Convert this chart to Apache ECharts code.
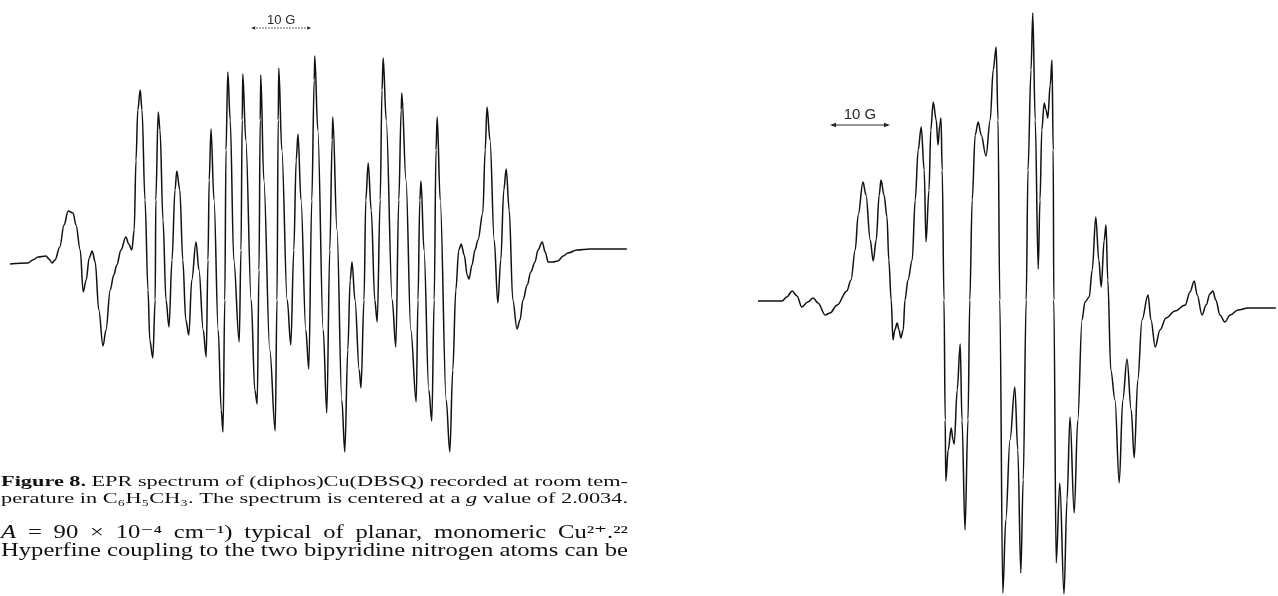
<!DOCTYPE html>
<html><head><meta charset="utf-8">
<script src="https://cdn.jsdelivr.net/npm/echarts@6/dist/echarts.min.js"></script>
<style>html,body{margin:0;padding:0;background:#fff}#c{width:1278px;height:596px}</style>
</head><body><div id="c"></div><script>
// Figure 8 spectrum: [field offset (G), first-derivative intensity (a.u.)]
const leftSpectrum = [[0,0],[3.0,1],[3.8,4],[4.7,7],[6.0,8],[6.5,5],[7.0,1],[7.5,4],[8.3,17],[9.0,39],[9.7,53],[10.5,51],[11.0,39],[11.7,14],[12.2,-28],[12.7,-16],[13.2,6],[13.7,13],[14.2,2],[14.8,-46],[15.5,-82],[16.0,-66],[16.7,-26],[17.3,-11],[17.8,-1],[18.5,14],[19.3,27],[19.8,20],[20.3,14],[20.7,34],[21.0,104],[21.3,154],[21.7,174],[22.0,154],[22.5,64],[23.0,-26],[23.3,-76],[23.8,-94],[24.2,-36],[24.3,64],[24.7,152],[25.0,134],[25.5,44],[26.0,-36],[26.5,-63],[27.0,4],[27.5,74],[27.8,93],[28.3,74],[28.8,4],[29.3,-56],[29.8,-71],[30.3,-16],[31.0,22],[31.5,-6],[32.2,-66],[32.7,-93],[33.0,4],[33.2,84],[33.5,135],[34.0,64],[34.7,-66],[35.2,-146],[35.5,-168],[35.8,-36],[36.0,114],[36.3,192],[36.7,144],[37.3,4],[38.2,-78],[38.5,14],[38.7,144],[38.8,190],[39.3,124],[40.2,-36],[40.8,-126],[41.2,-140],[41.5,-6],[41.7,144],[41.8,189],[42.3,84],[43.3,-86],[44.2,-167],[44.5,-36],[44.7,144],[44.8,196],[45.3,114],[46.2,-36],[46.8,-81],[47.3,14],[47.7,104],[48.0,130],[48.5,64],[49.3,-66],[49.8,-105],[50.3,64],[50.7,184],[50.8,208],[51.3,134],[52.2,-66],[52.8,-149],[53.3,14],[53.7,124],[53.8,147],[54.5,34],[55.3,-136],[55.8,-188],[56.3,-86],[56.7,-16],[57.0,2],[57.5,-36],[58.2,-106],[58.5,-124],[59.0,-36],[59.3,64],[59.7,101],[60.2,54],[60.8,-36],[61.2,-58],[61.7,64],[62.0,174],[62.2,206],[62.7,144],[63.7,-36],[64.3,-83],[64.8,64],[65.2,154],[65.3,171],[66.0,84],[66.8,-66],[67.7,-138],[68.0,-36],[68.3,64],[68.5,83],[69.0,14],[69.8,-126],[70.3,-157],[70.7,-36],[71.0,114],[71.2,147],[71.7,64],[72.7,-136],[73.3,-188],[73.8,-106],[74.3,-26],[74.8,14],[75.2,20],[75.7,9],[76.2,-11],[76.5,-15],[77.0,-1],[77.5,14],[78.0,24],[78.8,51],[79.2,114],[79.5,157],[80.0,124],[80.7,24],[81.3,-39],[81.8,4],[82.3,74],[82.7,95],[83.2,54],[83.8,-36],[84.5,-65],[85.0,-56],[85.5,-36],[86.2,-21],[86.8,-8],[87.5,2],[88.0,14],[88.7,22],[89.2,12],[89.7,2],[90.5,2],[91.3,3],[92.2,8],[93.0,11],[94.5,14],[96.7,15],[102.8,15]];

// Right-hand spectrum: [field offset (G), intensity (a.u.)]
const rightSpectrum = [[0,0],[4.0,0],[4.8,4],[5.7,10],[6.5,5],[7.3,-6],[8.3,-1],[9.2,3],[10.0,-2],[11.2,-14],[12.0,-12],[13.2,-4],[14.8,10],[15.5,21],[16.2,51],[16.7,86],[17.5,119],[18.0,106],[18.7,61],[19.2,40],[19.7,61],[20.2,106],[20.5,121],[21.0,106],[21.5,84],[21.8,41],[22.2,1],[22.5,-39],[22.8,-29],[23.2,-22],[23.5,-29],[23.8,-37],[24.2,-29],[24.5,1],[25.0,21],[25.7,41],[26.2,101],[26.7,151],[27.2,174],[27.7,131],[28.0,59],[28.5,111],[28.8,171],[29.2,199],[29.7,181],[30.0,156],[30.3,176],[30.5,183],[30.7,131],[31.0,1],[31.2,-119],[31.3,-180],[31.7,-149],[32.2,-127],[32.5,-139],[32.7,-143],[33.2,-89],[33.7,-43],[34.0,-119],[34.5,-229],[35.0,-119],[35.3,1],[35.7,101],[36.2,166],[36.7,179],[37.2,166],[38.0,145],[38.7,181],[39.2,231],[39.7,254],[40.0,181],[40.3,1],[40.8,-292],[41.3,-219],[42.0,-139],[42.8,-86],[43.3,-149],[43.8,-272],[44.2,-179],[44.7,1],[45.0,131],[45.5,231],[45.8,288],[46.2,181],[46.7,32],[47.0,101],[47.3,171],[47.7,198],[48.0,191],[48.3,183],[48.7,216],[49.0,241],[49.2,151],[49.3,1],[49.7,-262],[50.3,-182],[51.0,-293],[51.5,-199],[52.0,-116],[52.7,-212],[53.3,-119],[54.0,-19],[54.5,-1],[55.2,4],[55.7,31],[56.3,84],[56.8,41],[57.2,14],[57.7,61],[58.0,76],[58.3,21],[58.8,-69],[59.5,-99],[60.2,-182],[60.8,-99],[61.5,-58],[62.2,-109],[62.7,-157],[63.3,-79],[64.0,-19],[65.0,6],[65.5,-19],[66.2,-46],[67.0,-29],[68.0,-17],[69.5,-10],[71.2,-4],[72.0,9],[72.7,20],[73.2,6],[74.0,-14],[74.7,-4],[75.3,7],[75.8,10],[76.3,1],[77.0,-14],[77.8,-21],[78.7,-14],[80.0,-9],[81.7,-7],[86.3,-7]];

const scaleBarLabel = '10 G';
const scaleBarSpan = 10; // gauss
const captionLines = [
  '*Figure *8. EPR spectrum of (diphos)Cu(DBSQ) recorded at room tem-',
  'perature in C₆H₅CH₃. The spectrum is centered at a _g value of 2.0034.'
];
const bodyLines = [
  '_A = 90 × 10⁻⁴ cm⁻¹) typical of planar, monomeric Cu²⁺.²²',
  'Hyperfine coupling to the two bipyridine nitrogen atoms can be'
];

const chart = echarts.init(document.getElementById('c'));
const lineStyle = {color:'#111', width:1.5};
chart.setOption({
  animation:false,
  grid:[{left:10, top:40, width:616.8, height:430},{left:758, top:5, width:517.8, height:590}],
  xAxis:[{type:'value', gridIndex:0, min:0, max:102.8, show:false},
         {type:'value', gridIndex:1, min:0, max:86.3, show:false}],
  yAxis:[{type:'value', gridIndex:0, min:-206, max:224, show:false},
         {type:'value', gridIndex:1, min:-294, max:296, show:false}],
  series:[
    {type:'line', xAxisIndex:0, yAxisIndex:0, data:leftSpectrum, showSymbol:false, smooth:0.35, smoothMonotone:'x', lineStyle, clip:false},
    {type:'line', xAxisIndex:1, yAxisIndex:1, data:rightSpectrum, showSymbol:false, smooth:0.35, smoothMonotone:'x', lineStyle, clip:false}
  ]
});

// ---- text layout (justified, horizontally scaled serif like the scan) ----
const ctx = document.createElement('canvas').getContext('2d');
const FAM = '"Liberation Serif", "DejaVu Serif", serif';
function fontStr(s, size){ return (s==='i'?'italic ':'') + (s==='b'?'bold ':'') + size + 'px ' + FAM; }
function parse(line){
  return line.split(' ').filter(Boolean).map(w=>{
    let s='n';
    if(w[0]==='*'){s='b'; w=w.slice(1);} else if(w[0]==='_'){s='i'; w=w.slice(1);}
    return {w, s};
  });
}
const L0 = 1, R0 = 628;
function natural(line, size){
  const t = parse(line); let sum = 0;
  t.forEach(o=>{ctx.font=fontStr(o.s,size); sum += ctx.measureText(o.w).width;});
  ctx.font = fontStr('n',size);
  return sum + ctx.measureText(' ').width*(t.length-1);
}
function layout(line, size, y, S){
  const t = parse(line);
  t.forEach(o=>{ctx.font=fontStr(o.s,size); o.width = ctx.measureText(o.w).width*S;});
  const total = t.reduce((a,o)=>a+o.width,0);
  const gap = (R0-L0-total)/(t.length-1);
  let x = L0;
  return t.map(o=>{
    const el = {type:'text', x:x, y:y, scaleX:S, style:{text:o.w, fontSize:size, fontFamily:FAM,
      fontWeight:o.s==='b'?'bold':'normal', fontStyle:o.s==='i'?'italic':'normal',
      fill:'#111', textAlign:'left', textVerticalAlign:'middle', verticalAlign:'middle'}};
    x += o.width + gap; return el;
  });
}
const capSize = 15.5, bodySize = 18;
const Sc = captionLines.reduce((a,l)=>a+(R0-L0)/natural(l,capSize),0)/captionLines.length;
const Sb = (R0-L0)/natural(bodyLines[1], bodySize);
let graphics = [];
graphics = graphics.concat(layout(captionLines[0], capSize, 482, Sc));
graphics = graphics.concat(layout(captionLines[1], capSize, 499, Sc));
graphics = graphics.concat(layout(bodyLines[0], bodySize, 533, Sb));
graphics = graphics.concat(layout(bodyLines[1], bodySize, 551, Sb));

// ---- scale bars, placed through the axes ----
function arrowHead(x, y, dir, len, hw, color){
  return {type:'polygon', shape:{points:[[x,y],[x-dir*len,y-hw],[x-dir*len,y+hw]]}, style:{fill:color}};
}
function scaleBar(gridIndex, start, level, labelLevel, dashed, fontSize){
  const p1 = chart.convertToPixel({gridIndex}, [start, level]);
  const p2 = chart.convertToPixel({gridIndex}, [start+scaleBarSpan, level]);
  const pt = chart.convertToPixel({gridIndex}, [start+scaleBarSpan/2, labelLevel]);
  const col = '#2a2a2a';
  return [
    {type:'line', shape:{x1:p1[0]+2, y1:p1[1], x2:p2[0]-2, y2:p2[1]},
     style:{stroke:col, lineWidth:1, lineDash: dashed ? [1.5,1.5] : null}},
    arrowHead(p1[0], p1[1], -1, dashed?4:6, dashed?1.8:2.3, col),
    arrowHead(p2[0], p2[1], 1, dashed?4:6, dashed?1.8:2.3, col),
    {type:'text', x:pt[0], y:pt[1], style:{text:scaleBarLabel, fontSize, fontFamily:'"Liberation Sans", Arial, sans-serif',
      fill:'#2a2a2a', textAlign:'center', textVerticalAlign:'middle', verticalAlign:'middle'}}
  ];
}
graphics = graphics.concat(scaleBar(0, 40.2, 236, 243.5, true, 13));
graphics = graphics.concat(scaleBar(1, 12.0, 176, 186, false, 15));

chart.setOption({graphic: graphics});
</script></body></html>
